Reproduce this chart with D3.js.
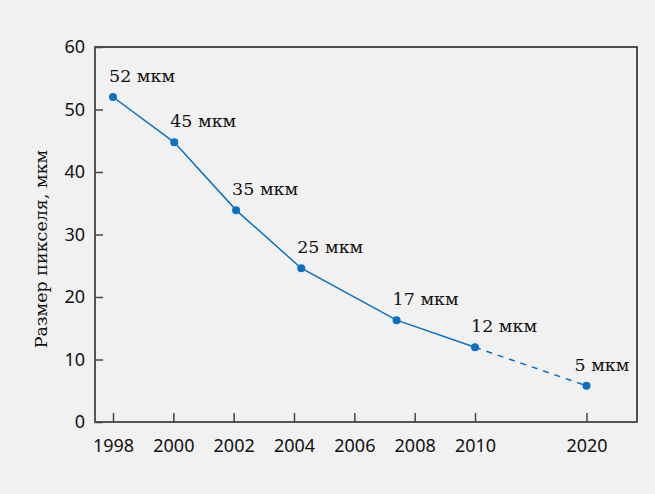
<!DOCTYPE html>
<html>
<head>
<meta charset="utf-8">
<script src="https://cdn.jsdelivr.net/npm/d3@7"></script>
<style>
  html, body { margin: 0; padding: 0; background: #f1f1f1; }
  .tick text { font-family: "Noto Sans", sans-serif; font-size: 18px; fill: #111; }
  .tick line { stroke: #444; stroke-width: 1.5; }
  .domain { stroke: #555; stroke-width: 2; }
</style>
</head>
<body>
<div id="chart"></div>
<script>
// Data
var years = [1998, 2000.03, 2002.08, 2004.24, 2007.4, 2010, 2020];
var pixelSize = [52, 44.75, 33.9, 24.6, 16.3, 11.95, 5.8];
var pointLabels = ["52 мкм", "45 мкм", "35 мкм", "25 мкм", "17 мкм", "12 мкм", "5 мкм"];
var xTickValues = [1998, 2000, 2002, 2004, 2006, 2008, 2010, 2020];
var yTickValues = [0, 10, 20, 30, 40, 50, 60];

var svgWidth = 655;
var svgHeight = 494;

var margin = {
  top: 47,
  right: 18,
  bottom: 72,
  left: 95
};

var width = svgWidth - margin.left - margin.right;
var height = svgHeight - margin.top - margin.bottom;

var svg = d3.select("#chart")
  .append("svg")
  .attr("width", svgWidth)
  .attr("height", svgHeight);

svg.append("rect")
  .attr("width", svgWidth)
  .attr("height", svgHeight)
  .attr("fill", "#f1f1f1");

var chartGroup = svg.append("g")
  .attr("transform", `translate(${margin.left}, ${margin.top})`);

// x axis is compressed after 2010
var xScale = d3.scaleLinear()
  .domain([1998, 2010, 2020])
  .range([18, 380, 491.5]);

var yScale = d3.scaleLinear()
  .domain([0, 60])
  .range([height, 0]);

// frame
chartGroup.append("rect")
  .attr("width", width)
  .attr("height", height)
  .attr("fill", "none")
  .attr("stroke", "#1a1a1a")
  .attr("stroke-width", 1.5);

var bottomAxis = d3.axisBottom(xScale)
  .tickValues(xTickValues)
  .tickFormat(d3.format("d"))
  .tickSizeInner(-9)
  .tickSizeOuter(0)
  .tickPadding(17);

var leftAxis = d3.axisLeft(yScale)
  .tickValues(yTickValues)
  .tickSizeInner(-8)
  .tickSizeOuter(0)
  .tickPadding(10);

chartGroup.append("g")
  .attr("transform", `translate(0, ${height})`)
  .call(bottomAxis)
  .call(g => g.select(".domain").attr("d", `M0,0H${width}`));

chartGroup.append("g")
  .call(leftAxis)
  .call(g => g.select(".domain").attr("d", `M0,0V${height}`));

var points = years.map(function(y, i) {
  return { year: y, size: pixelSize[i], label: pointLabels[i] };
});

var line = d3.line()
  .x(d => xScale(d.year))
  .y(d => yScale(d.size));

// measured part
chartGroup.append("path")
  .datum(points.slice(0, 6))
  .attr("d", line)
  .attr("fill", "none")
  .attr("stroke", "#0a70c4")
  .attr("stroke-width", 1.5);

// forecast part
chartGroup.append("path")
  .datum(points.slice(5))
  .attr("d", line)
  .attr("fill", "none")
  .attr("stroke", "#0a70c4")
  .attr("stroke-width", 1.5)
  .attr("stroke-dasharray", "6,6");

chartGroup.selectAll("circle")
  .data(points)
  .enter()
  .append("circle")
  .attr("cx", d => xScale(d.year))
  .attr("cy", d => yScale(d.size))
  .attr("r", 4)
  .attr("fill", "#0a70c4");

chartGroup.selectAll(".pointLabel")
  .data(points)
  .enter()
  .append("text")
  .attr("class", "pointLabel")
  .attr("x", (d, i) => xScale(d.year) + (i === points.length - 1 ? -12 : -4))
  .attr("y", d => yScale(d.size) - 15)
  .attr("font-family", "DejaVu Serif, serif")
  .attr("font-size", "17.5px")
  .attr("fill", "#111")
  .text(d => d.label);

// axis title
chartGroup.append("text")
  .attr("transform", "rotate(-90)")
  .attr("x", 0 - 202)
  .attr("y", 0 - margin.left + 47)
  .attr("text-anchor", "middle")
  .attr("font-family", "DejaVu Serif, serif")
  .attr("font-size", "17.5px")
  .attr("fill", "#111")
  .text("Размер пикселя, мкм");
</script>
</body>
</html>
